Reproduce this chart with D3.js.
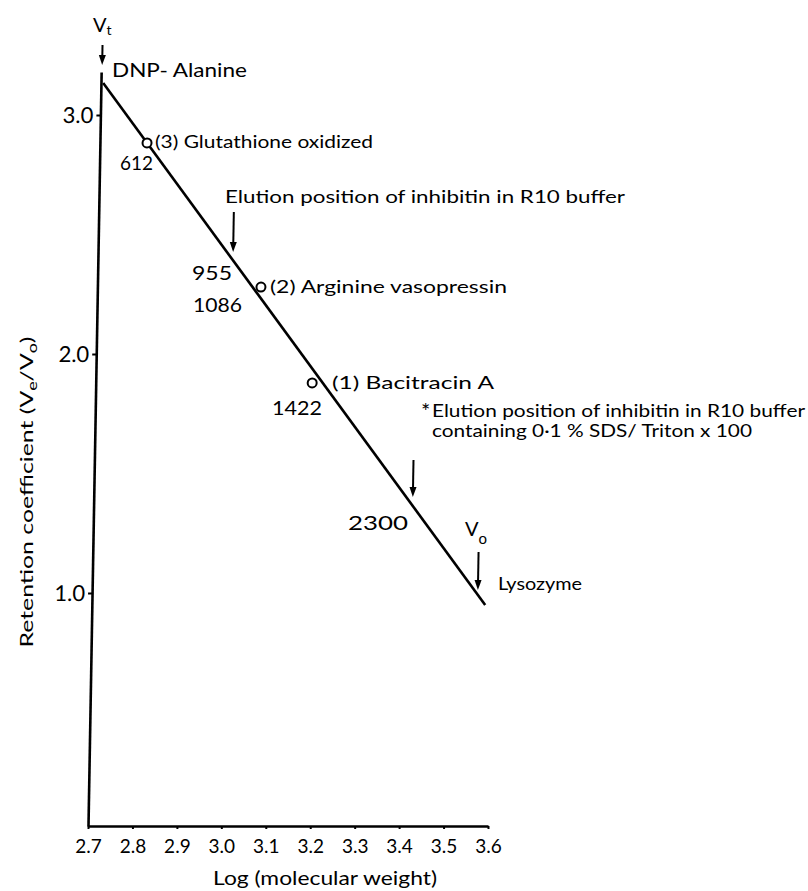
<!DOCTYPE html>
<html>
<head>
<meta charset="utf-8">
<script src="https://cdn.jsdelivr.net/npm/d3@7/dist/d3.min.js"></script>
<style>
  html, body { margin: 0; padding: 0; background: #fff; }
  svg { display: block; }
  text { font-family: Lato, "Open Sans", sans-serif; fill: #000; }
</style>
</head>
<body>
<svg id="chart" width="808" height="891"></svg>
<script>
// ---------------- data ----------------
const xTickValues = [2.7, 2.8, 2.9, 3.0, 3.1, 3.2, 3.3, 3.4, 3.5, 3.6];
const xTickLabels = ["2.7", "2.8", "2.9", "3.0", "3.1", "3.2", "3.3", "3.4", "3.5", "3.6"];
const yTickValues = [1.0, 2.0, 3.0];
const yTickLabels = ["1.0", "2.0", "3.0"];

// calibration line (log MW vs retention coefficient)
const calibLogMW = [2.705, 3.585];
const calibRetention = [3.134, 0.95];

// standards (open circles)
const standardNames = ["(3) Glutathione oxidized", "(2) Arginine vasopressin", "(1) Bacitracin A"];
const standardLogMW = [2.806, 3.068, 3.187];
const standardRetention = [2.883, 2.280, 1.879];

// arrows (elution markers): tip position
const markerNames = ["Vt", "inhibitin R10", "inhibitin SDS/Triton", "Vo"];
const markerLogMW = [2.702, 3.004, 3.418, 3.568];
const markerRetention = [3.209, 2.427, 1.402, 1.013];

// molecular weight labels
const mwLabels = ["612", "955", "1086", "1422", "2300"];

// ---------------- layout ----------------
const svg = d3.select("#chart");
const W = 808, H = 891;
const x = d3.scaleLinear().domain([2.7, 3.6]).range([88, 488]);
const y = d3.scaleLinear().domain([0.025, 3.18]).range([826, 72]);
const baseY = 826;

svg.append("rect").attr("width", W).attr("height", H).attr("fill", "#fff");

// plot group with slight skew reproducing the tilted vertical axis of the original
const g = svg.append("g")
  .attr("transform", `translate(0,${baseY}) skewX(-1.0) translate(0,${-baseY})`);

// axes
const yAxis = d3.axisLeft(y)
  .tickValues(yTickValues)
  .tickFormat((d, i) => yTickLabels[i])
  .tickSize(4).tickSizeOuter(0).tickPadding(3);
const gy = g.append("g").attr("transform", `translate(${x(2.7)},0)`).call(yAxis);
gy.select(".domain").attr("stroke", "#000").attr("stroke-width", 2.6);
gy.selectAll(".tick line").attr("stroke", "#000").attr("stroke-width", 2);
gy.selectAll(".tick text").attr("font-size", 22).attr("font-family", "Lato, sans-serif").attr("fill", "#000");

const xAxis = d3.axisBottom(x)
  .tickValues(xTickValues)
  .tickFormat((d, i) => xTickLabels[i])
  .tickSize(3).tickSizeOuter(0).tickPadding(11);
const gx = svg.append("g").attr("transform", `translate(0,${baseY})`).call(xAxis);
gx.select(".domain").attr("stroke", "#000").attr("stroke-width", 2.6);
gx.selectAll(".tick line").attr("stroke", "#000").attr("stroke-width", 2);
gx.selectAll(".tick text").attr("font-size", 19).attr("font-family", "Lato, sans-serif").attr("fill", "#000");

// calibration line
const lineData = calibLogMW.map((v, i) => [v, calibRetention[i]]);
g.append("path")
  .datum(lineData)
  .attr("d", d3.line().x(d => x(d[0])).y(d => y(d[1])))
  .attr("fill", "none").attr("stroke", "#000").attr("stroke-width", 2.6);

// standards
g.selectAll("circle.std")
  .data(standardLogMW.map((v, i) => ({ x: v, y: standardRetention[i] })))
  .join("circle")
  .attr("class", "std")
  .attr("cx", d => x(d.x)).attr("cy", d => y(d.y))
  .attr("r", 4.5)
  .attr("fill", "#fff").attr("stroke", "#000").attr("stroke-width", 2);

// arrows
const arrowLen = [20, 40, 37, 38];
const arrows = g.selectAll("g.arrow")
  .data(markerLogMW.map((v, i) => ({ x: v, y: markerRetention[i], len: arrowLen[i] })))
  .join("g").attr("class", "arrow");
arrows.append("line")
  .attr("x1", d => x(d.x)).attr("x2", d => x(d.x))
  .attr("y1", d => y(d.y) - d.len).attr("y2", d => y(d.y) - 6)
  .attr("stroke", "#000").attr("stroke-width", 2);
arrows.append("path")
  .attr("d", d => {
    const px = x(d.x), py = y(d.y);
    return `M${px - 3.5},${py - 10} L${px + 3.5},${py - 10} L${px},${py} Z`;
  })
  .attr("fill", "#000");

// ---------------- texts ----------------
function label(txt, px, py, size, len) {
  const t = svg.append("text").attr("x", px).attr("y", py).attr("font-size", size).text(txt);
  if (len) t.attr("textLength", len).attr("lengthAdjust", "spacingAndGlyphs");
  return t;
}

// V_t
const vt = svg.append("text").attr("x", 93).attr("y", 32).attr("font-size", 20);
vt.append("tspan").text("V");
vt.append("tspan").attr("font-size", 14).attr("dy", 3).text("t");

label("DNP- Alanine", 112, 77, 19, 135);
label(standardNames[0], 155, 148, 18, 218);
label(mwLabels[0], 120, 170, 19, 33);
label("Elution position of inhibitin in R10 buffer", 225, 203, 18, 400);
label(mwLabels[1], 192, 280, 19, 40);
label(mwLabels[2], 193, 312, 19, 49);
label(standardNames[1], 270, 293, 18, 237);
label(standardNames[2], 332, 389, 18, 162);
label(mwLabels[3], 272, 415, 19, 50);
label("*", 421, 419, 22);
label("Elution position of inhibitin in R10 buffer", 432, 417, 18, 373);
label("containing 0·1 % SDS/ Triton x 100", 432, 437, 18, 320);
label(mwLabels[4], 348, 530, 19, 60);

const vo = svg.append("text").attr("x", 465).attr("y", 536).attr("font-size", 20);
vo.append("tspan").text("V");
vo.append("tspan").attr("font-size", 15).attr("dy", 8).text("o");

label("Lysozyme", 498, 590, 18, 84);

// axis titles
const yt = svg.append("text")
  .attr("transform", "translate(33,492) rotate(-90)")
  .attr("text-anchor", "middle").attr("font-size", 18)
  .attr("textLength", 311).attr("lengthAdjust", "spacingAndGlyphs");
yt.append("tspan").text("Retention  coefficient (V");
yt.append("tspan").attr("font-size", 13).attr("dy", 4).text("e");
yt.append("tspan").attr("dy", -4).text("/V");
yt.append("tspan").attr("font-size", 13).attr("dy", 4).text("o");
yt.append("tspan").attr("dy", -4).text(")");

svg.append("text")
  .attr("x", 325).attr("y", 885)
  .attr("text-anchor", "middle").attr("font-size", 19)
  .attr("textLength", 224).attr("lengthAdjust", "spacingAndGlyphs")
  .text("Log  (molecular weight)");
</script>
</body>
</html>
